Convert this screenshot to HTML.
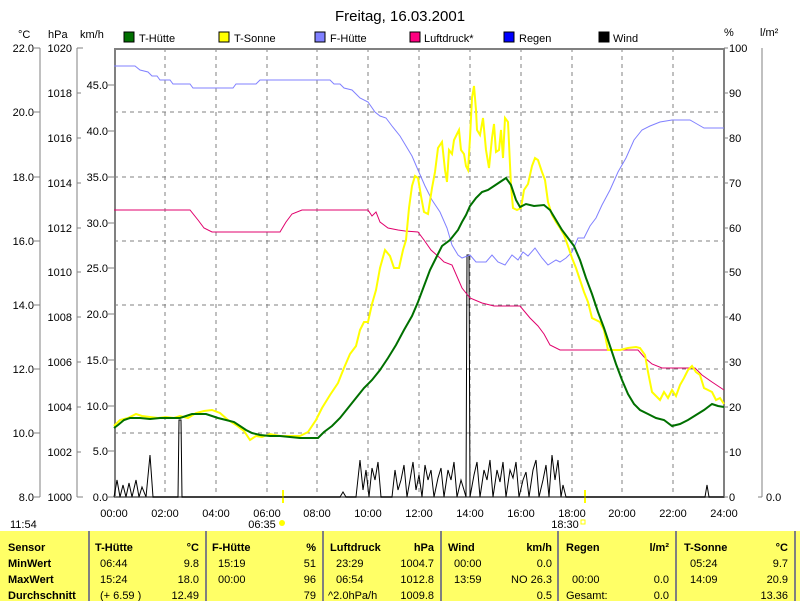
<!DOCTYPE html>
<html><head><meta charset="utf-8"><style>
body{margin:0;background:#fff;}
svg{display:block;font-family:"Liberation Sans",sans-serif;}
</style></head><body>
<svg width="800" height="601" viewBox="0 0 800 601" xmlns="http://www.w3.org/2000/svg">
<rect width="800" height="601" fill="#fff"/>
<text x="400" y="21" font-size="15" text-anchor="middle">Freitag, 16.03.2001</text>
<g font-size="11">
<text x="18" y="38">°C</text><text x="48" y="38">hPa</text><text x="80" y="38">km/h</text>
<text x="724" y="36">%</text><text x="760" y="36">l/m²</text>
<rect x="124" y="32" width="10" height="10" fill="#007000" stroke="#000"/><text x="139" y="42">T-Hütte</text>
<rect x="219" y="32" width="10" height="10" fill="#ffff00" stroke="#000"/><text x="234" y="42">T-Sonne</text>
<rect x="315" y="32" width="10" height="10" fill="#8080ff" stroke="#000"/><text x="330" y="42">F-Hütte</text>
<rect x="410" y="32" width="10" height="10" fill="#ff0080" stroke="#000"/><text x="424" y="42">Luftdruck*</text>
<rect x="504" y="32" width="10" height="10" fill="#0000ff" stroke="#000"/><text x="519" y="42">Regen</text>
<rect x="599" y="32" width="10" height="10" fill="#000" stroke="#000"/><text x="613" y="42">Wind</text>
</g>
<g stroke="#808080" stroke-dasharray="4,4" stroke-width="1">
<path d="M165 48V497M216 48V497M267 48V497M317 48V497M368 48V497M419 48V497M470 48V497M521 48V497M572 48V497M622 48V497M673 48V497"/>
<path d="M114 112H724M114 177H724M114 241H724M114 305H724M114 369H724M114 433H724"/>
</g>
<g stroke="#808080" fill="none">
<path d="M115 497V49H724V497H114" stroke-width="2"/>
<path d="M40 48V497M77 48V497M762 48V497"/>
<path d="M34 48h6M34 112h6M34 177h6M34 241h6M34 305h6M34 369h6M34 433h6M34 497h6"/>
<path d="M77 48h6M77 93h4M77 138h4M77 183h4M77 228h4M77 272h4M77 317h4M77 362h4M77 407h4M77 452h4M77 497h6"/>
<path d="M108 85h6M108 131h6M108 177h6M108 223h6M108 268h6M108 314h6M108 360h6M108 406h6M108 451h6M108 497h6"/>
<path d="M724 48h4M724 93h4M724 138h4M724 183h4M724 228h4M724 272h4M724 317h4M724 362h4M724 407h4M724 452h4M724 497h4M758 497h4"/>
</g>
<g font-size="11" text-anchor="end">
<text x="34" y="52">22.0</text><text x="34" y="116">20.0</text><text x="34" y="181">18.0</text><text x="34" y="245">16.0</text><text x="34" y="309">14.0</text><text x="34" y="373">12.0</text><text x="34" y="437">10.0</text><text x="34" y="501">8.0</text>
<text x="72" y="52">1020</text><text x="72" y="97">1018</text><text x="72" y="142">1016</text><text x="72" y="187">1014</text><text x="72" y="232">1012</text><text x="72" y="276">1010</text><text x="72" y="321">1008</text><text x="72" y="366">1006</text><text x="72" y="411">1004</text><text x="72" y="456">1002</text><text x="72" y="501">1000</text>
<text x="108" y="89">45.0</text><text x="108" y="135">40.0</text><text x="108" y="181">35.0</text><text x="108" y="227">30.0</text><text x="108" y="272">25.0</text><text x="108" y="318">20.0</text><text x="108" y="364">15.0</text><text x="108" y="410">10.0</text><text x="108" y="455">5.0</text><text x="108" y="501">0.0</text>
</g>
<g font-size="11">
<text x="729" y="52">100</text><text x="729" y="97">90</text><text x="729" y="142">80</text><text x="729" y="187">70</text><text x="729" y="232">60</text><text x="729" y="276">50</text><text x="729" y="321">40</text><text x="729" y="366">30</text><text x="729" y="411">20</text><text x="729" y="456">10</text><text x="729" y="501">0</text>
<text x="766" y="501">0.0</text>
</g>
<g font-size="11" text-anchor="middle">
<text x="114" y="517">00:00</text><text x="165" y="517">02:00</text><text x="216" y="517">04:00</text><text x="267" y="517">06:00</text><text x="317" y="517">08:00</text><text x="368" y="517">10:00</text><text x="419" y="517">12:00</text><text x="470" y="517">14:00</text><text x="521" y="517">16:00</text><text x="572" y="517">18:00</text><text x="622" y="517">20:00</text><text x="673" y="517">22:00</text><text x="724" y="517">24:00</text>
<text x="262" y="528">06:35</text><text x="565" y="528">18:30</text>
</g>
<text x="10" y="528" font-size="11">11:54</text>
<circle cx="282" cy="523" r="3" fill="#ffff00"/><rect x="581" y="520" width="4" height="4" fill="none" stroke="#ffff00"/>
<path d="M283 490V503M585 490V503" stroke="#ffff00" stroke-width="2"/>
<polyline fill="none" stroke="#000" stroke-width="1" points="114,497 117,480 120,497 123,485 126,497 129,483 132,497 136,480 139,497 142,487 146,497 150,455 153,497 178,497 179,420 181,420 182,497 340,497 343,492 346,497 356,497 360,460 363,490 366,470 369,497 372,468 375,480 378,462 381,497 392,497 395,470 398,490 401,480 404,465 407,497 410,480 413,462 416,490 419,475 422,497 425,465 428,480 431,470 434,497 438,478 441,468 444,497 448,470 451,480 454,462 457,497 461,480 464,490 466,497 467,255 469,255 470,497 474,475 477,462 480,497 484,470 487,480 490,460 493,497 497,470 500,482 503,462 506,497 510,470 513,478 516,462 519,497 523,480 526,472 529,497 533,470 536,460 539,497 543,480 546,465 549,497 552,455 555,480 558,460 561,497 563,485 566,497 705,497 707,485 709,497 724,497"/>
<polyline fill="none" stroke="#e0006c" stroke-width="1" points="114,210 190,210 198,220 204,228 212,232 280,232 286,222 292,214 302,210 368,210 372,216 376,212 380,222 388,228 398,230 405,231 418,232 424,240 431,250 440,258 444,262 452,265 462,288 470,298 482,303 494,306 520,306 530,318 538,326 544,334 550,345 560,350 638,350 645,358 652,364 662,368 695,368 702,375 712,382 724,390"/>
<polyline fill="none" stroke="#8080ff" stroke-width="1" points="114,66 135,66 140,70 148,72 152,76 157,76 160,80 170,80 173,84 190,84 193,88 233,88 236,84 256,84 260,80 330,80 334,84 340,84 344,88 352,90 360,98 368,102 375,112 380,116 386,118 392,126 400,136 406,146 412,156 418,170 425,186 432,200 440,212 447,228 452,245 458,255 462,258 470,255 476,262 486,262 492,255 498,262 505,265 512,255 518,260 523,252 528,256 535,248 542,258 548,265 556,260 560,262 566,258 572,252 578,238 584,238 590,226 596,218 602,205 610,190 618,172 626,158 634,140 642,130 650,126 660,122 672,120 690,120 697,124 704,128 724,128"/>
<polyline fill="none" stroke="#ffff00" stroke-width="2" points="114,426 120,420 128,418 136,414 142,416 150,417 158,418 166,417 174,418 180,416 188,418 196,413 204,411 212,410 220,413 228,420 236,425 244,431 250,440 256,436 262,437 270,434 280,436 290,436 300,436 308,432 316,420 322,408 330,395 338,383 344,368 350,354 356,346 360,330 364,322 368,322 372,304 376,290 380,268 385,250 390,256 394,268 399,268 403,250 406,240 409,208 412,186 415,176 418,178 421,196 424,212 428,214 432,188 435,172 438,148 442,142 445,170 447,182 449,150 452,154 454,140 457,134 459,130 461,150 464,154 466,166 468,170 470,138 472,98 474,86 476,110 477,130 480,135 483,118 486,150 489,168 492,138 494,124 496,152 499,150 501,130 503,158 505,118 508,122 511,186 513,208 517,210 521,208 524,190 528,184 532,166 535,158 538,160 542,172 545,180 548,202 552,215 556,222 560,228 564,235 568,246 572,258 576,268 580,280 584,292 588,302 592,318 596,320 600,322 604,330 608,350 612,350 620,350 628,348 636,347 640,348 645,355 648,372 652,392 656,396 660,400 664,392 668,398 672,390 676,396 680,385 684,378 688,370 692,366 696,372 700,375 704,388 708,390 712,392 716,400 720,398 724,404"/>
<polyline fill="none" stroke="#007000" stroke-width="2" points="114,428 118,425 124,420 130,418 140,418 150,419 160,418 170,418 180,418 186,416 192,414 206,414 212,416 218,418 226,420 234,422 240,426 246,430 252,433 260,435 270,436 280,436 290,437 300,438 318,438 324,432 332,426 340,418 348,408 356,398 364,388 372,380 380,370 388,358 396,345 404,330 412,316 418,302 424,286 430,270 436,258 442,246 450,240 458,230 462,222 466,215 470,206 476,198 482,192 488,190 494,186 500,182 506,178 511,185 516,200 520,207 526,204 534,206 544,205 550,210 556,220 562,230 568,238 574,246 580,260 586,278 592,294 598,312 604,328 610,346 616,364 622,380 628,394 634,404 640,410 648,414 656,418 664,420 672,426 680,424 688,420 696,415 704,410 712,404 718,406 724,407"/>
<rect x="0" y="531" width="800" height="70" fill="#ffff66"/>
<g stroke="#808080" stroke-width="2"><path d="M89 531V601M206 531V601M323 531V601M441 531V601M558 531V601M676 531V601M795 531V601"/></g>
<g font-size="11" font-weight="bold">
<text x="8" y="551">Sensor</text><text x="8" y="567">MinWert</text><text x="8" y="583">MaxWert</text><text x="8" y="599">Durchschnitt</text>
<text x="95" y="551">T-Hütte</text><text x="199" y="551" text-anchor="end">°C</text>
<text x="212" y="551">F-Hütte</text><text x="316" y="551" text-anchor="end">%</text>
<text x="330" y="551">Luftdruck</text><text x="434" y="551" text-anchor="end">hPa</text>
<text x="448" y="551">Wind</text><text x="552" y="551" text-anchor="end">km/h</text>
<text x="566" y="551">Regen</text><text x="669" y="551" text-anchor="end">l/m²</text>
<text x="684" y="551">T-Sonne</text><text x="788" y="551" text-anchor="end">°C</text>
</g>
<g font-size="11">
<text x="100" y="567">06:44</text><text x="199" y="567" text-anchor="end">9.8</text>
<text x="100" y="583">15:24</text><text x="199" y="583" text-anchor="end">18.0</text>
<text x="100" y="599">(+ 6.59 )</text><text x="199" y="599" text-anchor="end">12.49</text>
<text x="218" y="567">15:19</text><text x="316" y="567" text-anchor="end">51</text>
<text x="218" y="583">00:00</text><text x="316" y="583" text-anchor="end">96</text>
<text x="316" y="599" text-anchor="end">79</text>
<text x="336" y="567">23:29</text><text x="434" y="567" text-anchor="end">1004.7</text>
<text x="336" y="583">06:54</text><text x="434" y="583" text-anchor="end">1012.8</text>
<text x="328" y="599">^2.0hPa/h</text><text x="434" y="599" text-anchor="end">1009.8</text>
<text x="454" y="567">00:00</text><text x="552" y="567" text-anchor="end">0.0</text>
<text x="454" y="583">13:59</text><text x="552" y="583" text-anchor="end">NO 26.3</text>
<text x="552" y="599" text-anchor="end">0.5</text>
<text x="572" y="583">00:00</text><text x="669" y="583" text-anchor="end">0.0</text>
<text x="566" y="599">Gesamt:</text><text x="669" y="599" text-anchor="end">0.0</text>
<text x="690" y="567">05:24</text><text x="788" y="567" text-anchor="end">9.7</text>
<text x="690" y="583">14:09</text><text x="788" y="583" text-anchor="end">20.9</text>
<text x="788" y="599" text-anchor="end">13.36</text>
</g>
</svg>
</body></html>
